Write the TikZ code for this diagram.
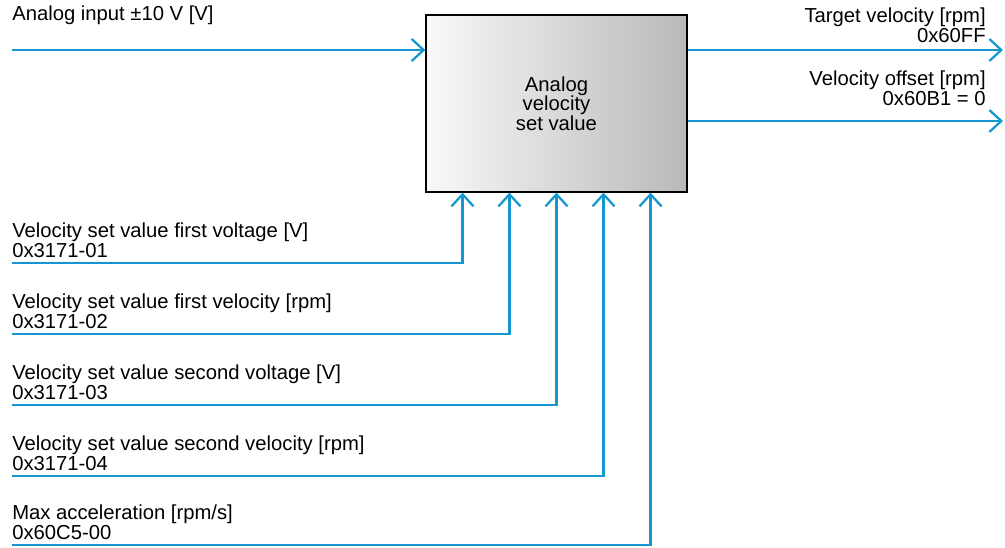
\documentclass[tikz,border=0pt]{standalone}
\usepackage{fontspec}
\setmainfont{Liberation Sans}
\usetikzlibrary{arrows.meta}
\definecolor{sigblue}{RGB}{20,150,206}
\begin{document}
\begin{tikzpicture}[
    x=0.025cm, y=-0.025cm,
    font=\fontsize{14.4pt}{13.9pt}\selectfont,
    block/.style={rectangle, draw=black, line width=0.9pt, left color=gray!5, right color=gray!55, minimum width=6.525cm, minimum height=4.425cm, align=center},
    arrow/.style={-{Straight Barb[length=0.3cm, width=0.55cm, line width=1.6pt]}, sigblue, line width=1.8pt},
    lbl/.style={inner sep=0pt, align=left, anchor=south west},
    rlbl/.style={inner sep=0pt, align=right, anchor=south east}
]
    \useasboundingbox (0,0) rectangle (1005,547);

    % Block
    \node[block] (box) at (556.5,103.5) {Analog\\velocity\\set value};

    % Analog input
    \coordinate (ain) at (12,50);
    \node[lbl] (ainl) at (12,25) {Analog input ±10 V [V]};
    \draw[arrow] (ain) -- (ain -| box.west);

    % Outputs
    \coordinate (out1) at (1003,50);
    \coordinate (out2) at (1003,121);
    \node[rlbl] (out1l) at (986,43) {Target velocity [rpm]\\0x60FF};
    \node[rlbl] (out2l) at (986,106) {Velocity offset [rpm]\\0x60B1 = 0};
    \draw[arrow] (box.east |- out1) -- (out1);
    \draw[arrow] (box.east |- out2) -- (out2);

    % Parameters
    \foreach \i/\y/\dx/\txt in {
        1/263/-94/{Velocity set value first voltage [V]\\0x3171-01},
        2/334/-47/{Velocity set value first velocity [rpm]\\0x3171-02},
        3/405/0/{Velocity set value second voltage [V]\\0x3171-03},
        4/476/47/{Velocity set value second velocity [rpm]\\0x3171-04},
        5/545/94/{Max acceleration [rpm/s]\\0x60C5-00}} {
        \coordinate (par\i) at (12,\y);
        \node[lbl] (par\i l) at (12,\y-5) {\txt};
        \draw[arrow] (par\i) -| ([xshift=\dx*0.025cm]box.south);
    }

\end{tikzpicture}
\end{document}
